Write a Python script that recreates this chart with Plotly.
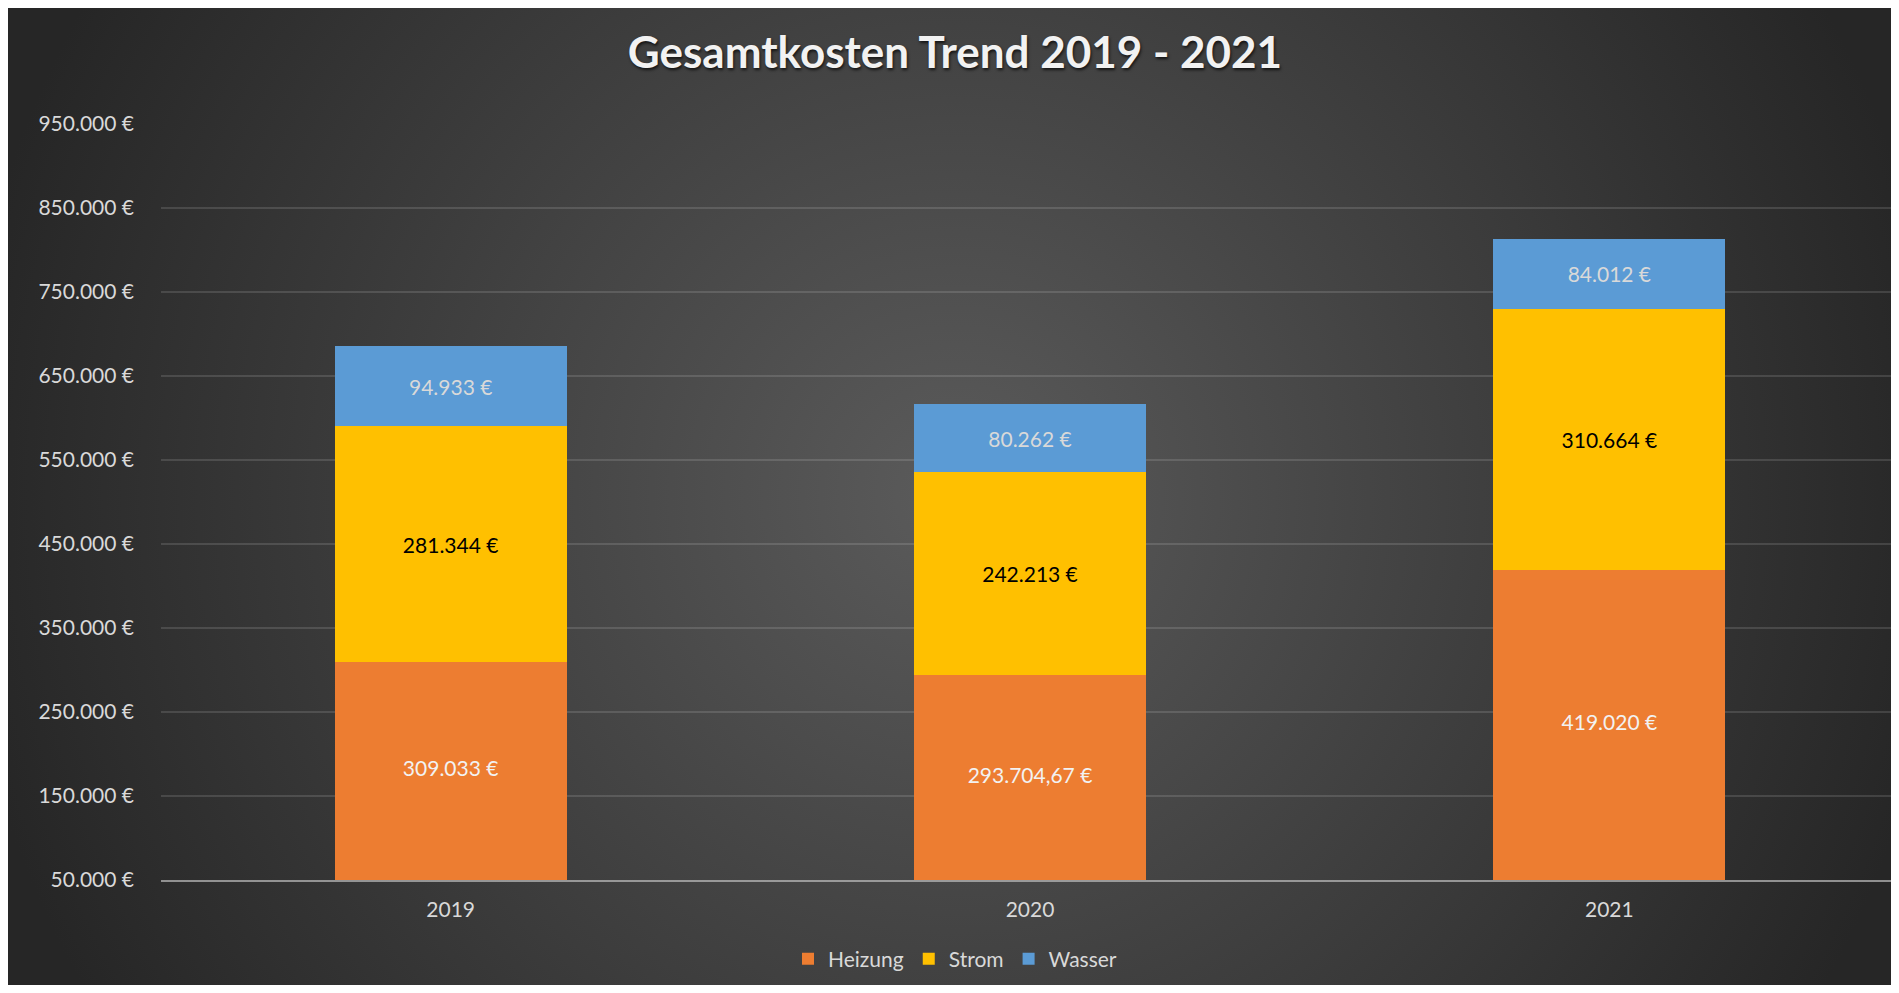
import base64
import plotly.graph_objects as go

# Data
years = ["2019", "2020", "2021"]
heizung = [309033, 293704.67, 419020]
strom = [281344, 242213, 310664]
wasser = [94933, 80262, 84012]

y_min, y_max, y_step = 50000, 950000, 100000
y_ticks = list(range(y_min, y_max + 1, y_step))


def euro(v):
    # german style: 1.234.567,89 €
    s = f"{v:,.2f}" if v != int(v) else f"{int(v):,}"
    return s.replace(",", "X").replace(".", ",").replace("X", ".") + " €"


y_ticktext = [euro(v) for v in y_ticks]

# the page body has an 8px margin, so the figure is a bit smaller than the window
W, H = 1891, 977
ml, mr, mt = 153, 0, 116
mb = H - 872
pw, ph = W - ml - mr, H - mt - mb

# dark radial background (excel chart style)
svg = (
    f'<svg xmlns="http://www.w3.org/2000/svg" width="{W}" height="{H}" viewBox="0 0 {W} {H}">'
    f'<defs><radialGradient id="g" gradientUnits="userSpaceOnUse" cx="{W/2}" cy="{H/2}" r="1000">'
    '<stop offset="0" stop-color="#5b5b5b"/><stop offset="1" stop-color="#262626"/>'
    '</radialGradient></defs>'
    f'<rect width="{W}" height="{H}" fill="url(#g)"/></svg>'
)
bg_src = "data:image/svg+xml;base64," + base64.b64encode(svg.encode()).decode()

fig = go.Figure()

fig.add_trace(go.Bar(
    x=years, y=heizung, name="Heizung", marker=dict(color="#ED7D31", line=dict(width=0)),
    hoverinfo="skip",
))
fig.add_trace(go.Bar(
    x=years, y=strom, name="Strom", marker=dict(color="#FFC000", line=dict(width=0)),
    text=[euro(v) for v in strom], textposition="inside", insidetextanchor="middle",
    textangle=0, textfont=dict(family="Lato", size=21, color="#000000"),
    hoverinfo="skip",
))
fig.add_trace(go.Bar(
    x=years, y=wasser, name="Wasser", marker=dict(color="#5B9BD5", line=dict(width=0)),
    text=[euro(v) for v in wasser], textposition="inside", insidetextanchor="middle",
    textangle=0, textfont=dict(family="Lato", size=21, color="#D9D9D9"),
    hoverinfo="skip",
))
# Heizung labels sit in the middle of the visible part (axis starts at 50.000)
fig.add_trace(go.Scatter(
    x=years, y=[(y_min + v) / 2 for v in heizung], mode="text",
    text=[euro(v) for v in heizung],
    textfont=dict(family="Lato", size=21, color="#F2F2F2"),
    showlegend=False, hoverinfo="skip",
))

fig.update_layout(
    width=W, height=H,
    margin=dict(l=ml, r=mr, t=mt, b=mb, pad=0),
    barmode="stack", bargap=0.6,
    paper_bgcolor="#262626", plot_bgcolor="rgba(0,0,0,0)",
    font=dict(family="Lato", size=21, color="#D9D9D9"),
    title=dict(
        text="<b>Gesamtkosten Trend 2019 - 2021</b>",
        x=947 / W, xref="container", xanchor="center",
        y=1 - 45 / H, yref="container", yanchor="middle",
        font=dict(family="Lato", size=44, color="#F2F2F2",
                  shadow="1px 2px 3px rgba(0,0,0,0.7)"),
    ),
    legend=dict(
        orientation="h", xref="container", yref="container",
        x=947 / W, xanchor="center", y=1 - 951 / H, yanchor="middle",
        font=dict(family="Lato", size=21, color="#D9D9D9"),
        bgcolor="rgba(0,0,0,0)", traceorder="normal",
    ),
    images=[dict(
        source=bg_src, xref="paper", yref="paper",
        x=-ml / pw, y=(H - mb) / ph, sizex=W / pw, sizey=H / ph,
        xanchor="left", yanchor="top", sizing="stretch", layer="below",
    )],
)

fig.update_xaxes(
    showgrid=False, showline=True, linecolor="rgba(200,200,200,0.65)", linewidth=2,
    ticks="", ticklabelstandoff=10,
    tickfont=dict(family="Lato", size=21, color="#D9D9D9"),
    range=[-0.5, 2.5],
)
fig.update_yaxes(
    range=[y_min, y_max], tickvals=y_ticks, ticktext=y_ticktext,
    showgrid=True, gridcolor="rgba(255,255,255,0.13)", gridwidth=1.5,
    zeroline=False, showline=False, ticks="", ticklabelstandoff=26,
    tickfont=dict(family="Lato", size=21, color="#D9D9D9"),
)

fig.write_html("out.html")
